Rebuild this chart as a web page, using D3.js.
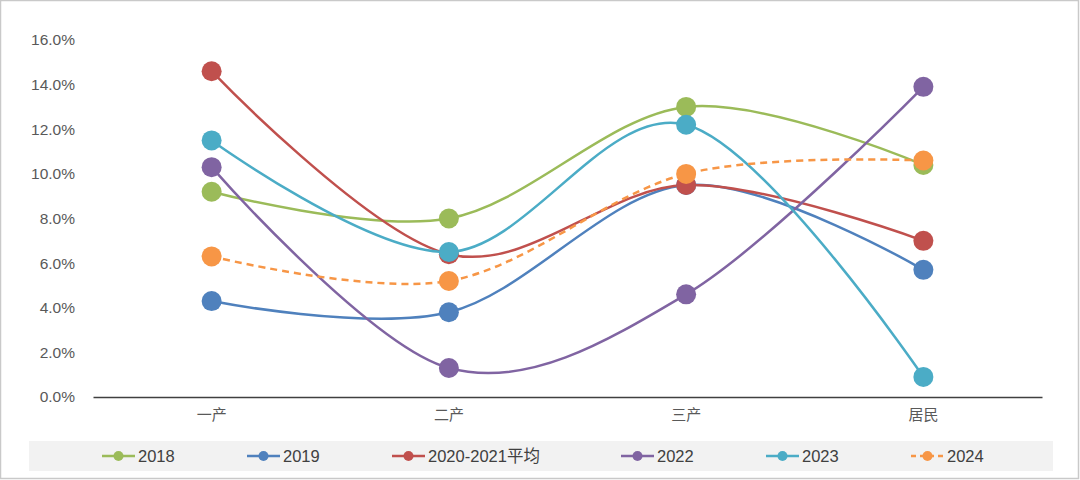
<!DOCTYPE html>
<html>
<head>
<meta charset="utf-8">
<script src="https://cdn.jsdelivr.net/npm/d3@7"></script>
<style>
  body { margin: 0; background: #fff; }
  text { font-family: "Liberation Sans", "Noto Sans CJK SC", sans-serif; }
</style>
</head>
<body>
<div id="chart"></div>
<script>
// data
var categories = ["一产", "二产", "三产", "居民"];
var seriesNames = ["2018", "2019", "2020-2021平均", "2022", "2023", "2024"];
var v2018 = [9.2, 8.0, 13.0, 10.4];
var v2019 = [4.3, 3.8, 9.5, 5.7];
var v2020_2021 = [14.6, 6.4, 9.5, 7.0];
var v2022 = [10.3, 1.3, 4.6, 13.9];
var v2023 = [11.5, 6.5, 12.2, 0.9];
var v2024 = [6.3, 5.2, 10.0, 10.6];
var yTicks = [0, 2, 4, 6, 8, 10, 12, 14, 16];

var colors = ["#9BBB59", "#4F81BD", "#C0504D", "#8064A2", "#4BACC6", "#F79646"];
var dashed = [false, false, false, false, false, true];
var allValues = [v2018, v2019, v2020_2021, v2022, v2023, v2024];

var svgWidth = 1080;
var svgHeight = 480;

var margin = { top: 40, right: 38, bottom: 83, left: 93 };
var width = svgWidth - margin.left - margin.right;
var height = svgHeight - margin.top - margin.bottom;

var svg = d3.select("#chart").append("svg")
  .attr("width", svgWidth)
  .attr("height", svgHeight);

// outer frame
svg.append("rect")
  .attr("x", 0.5).attr("y", 0.5)
  .attr("width", svgWidth - 2).attr("height", svgHeight - 2)
  .attr("fill", "#fff")
  .attr("stroke", "#c9c9c9")
  .attr("stroke-width", 1.5);

var chartGroup = svg.append("g")
  .attr("transform", `translate(${margin.left}, ${margin.top})`);

var xScale = d3.scaleBand()
  .domain(categories)
  .range([0, width])
  .padding(0);

var yScale = d3.scaleLinear()
  .domain([0, 16])
  .range([height, 0]);

// y axis labels (no line)
var leftAxis = d3.axisLeft(yScale)
  .tickValues(yTicks)
  .tickSize(0)
  .tickPadding(18)
  .tickFormat(d => d.toFixed(1) + "%");

var yAxis = chartGroup.append("g").call(leftAxis);
yAxis.select(".domain").remove();
yAxis.selectAll("text")
  .style("font-size", "15.5px")
  .attr("fill", "#595959");

// x axis
var bottomAxis = d3.axisBottom(xScale).tickSize(0).tickPadding(12);
var xAxis = chartGroup.append("g")
  .attr("transform", `translate(0, ${height})`)
  .call(bottomAxis);
xAxis.select(".domain")
  .attr("stroke", "#404040")
  .attr("stroke-width", 1.5);
xAxis.selectAll("text")
  .style("font-family", "'Noto Sans CJK SC', sans-serif")
  .style("font-size", "15px")
  .attr("fill", "#595959");

var xPos = d => xScale(d) + xScale.bandwidth() / 2;

var line = d3.line()
  .x((d, i) => xPos(categories[i]))
  .y(d => yScale(d))
  .curve(d3.curveCardinal.tension(0));

allValues.forEach(function(vals, s) {
  chartGroup.append("path")
    .datum(vals)
    .attr("d", line)
    .attr("fill", "none")
    .attr("stroke", colors[s])
    .attr("stroke-width", 2.5)
    .attr("stroke-dasharray", dashed[s] ? "7,5" : null);
});

allValues.forEach(function(vals, s) {
  chartGroup.selectAll(null)
    .data(vals)
    .enter()
    .append("circle")
    .attr("cx", (d, i) => xPos(categories[i]))
    .attr("cy", d => yScale(d))
    .attr("r", 10)
    .attr("fill", colors[s]);
});

// legend
svg.append("rect")
  .attr("x", 29).attr("y", 441)
  .attr("width", 1024).attr("height", 30)
  .attr("fill", "#f2f2f2");

var legendX = [102, 247, 392, 621, 766, 911];
var legendGroup = svg.append("g").attr("transform", "translate(0, 456)");

seriesNames.forEach(function(name, s) {
  var g = legendGroup.append("g").attr("transform", `translate(${legendX[s]}, 0)`);
  g.append("line")
    .attr("x1", 0).attr("x2", 33)
    .attr("y1", 0).attr("y2", 0)
    .attr("stroke", colors[s])
    .attr("stroke-width", 2.5)
    .attr("stroke-dasharray", dashed[s] ? "5,4" : null);
  g.append("circle")
    .attr("cx", 16.5).attr("cy", 0)
    .attr("r", 5)
    .attr("fill", colors[s]);
  g.append("text")
    .attr("x", 36).attr("y", 0)
    .attr("dy", "0.35em")
    .style("font-size", "16.5px")
    .attr("fill", "#404040")
    .text(name);
});
</script>
</body>
</html>
